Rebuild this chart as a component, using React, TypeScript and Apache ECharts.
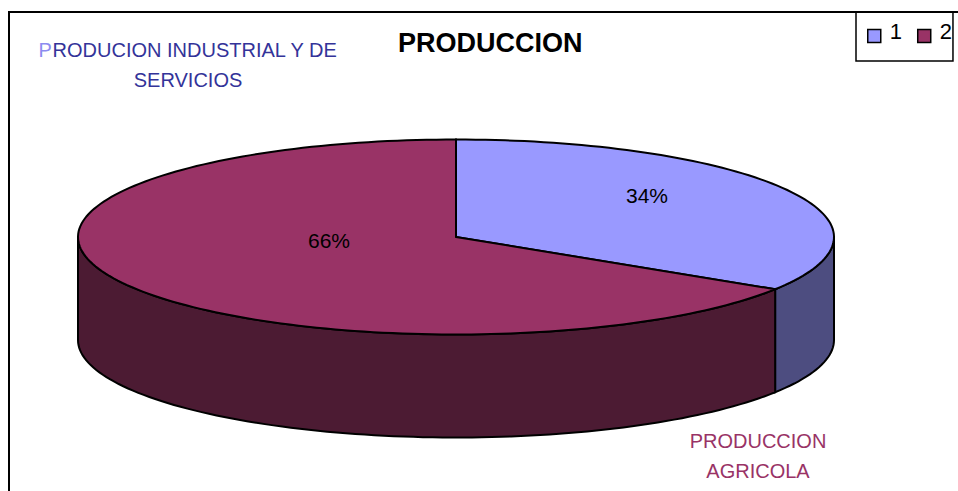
import React, { useEffect, useRef } from "react";
import * as echarts from "echarts";

// ---- data ----
const legendNames = ["1", "2"];
const values = [34, 66];
const topColors = ["#9999FF", "#993366"];
const sideColors = ["#4D4D80", "#4C1B33"];
const titleText = "PRODUCCION";
const industrialLabel = ["PRODUCION INDUSTRIAL Y DE", "SERVICIOS"];
const agricolaLabel = ["PRODUCCION", "AGRICOLA"];

// ---- layout ----
const CX = 456;
const CY = 237;
const RX = 378;
const RY = 97.5;
const DEPTH = 103;
const FONT = "'Liberation Sans', Arial, sans-serif";

function pt(deg: number, dy = 0): number[] {
  const r = (deg * Math.PI) / 180;
  return [CX + RX * Math.sin(r), CY - RY * Math.cos(r) + dy];
}

function arc(a0: number, a1: number, dy = 0): number[][] {
  const n = Math.max(2, Math.ceil(Math.abs(a1 - a0) / 1.5));
  const pts: number[][] = [];
  for (let i = 0; i <= n; i++) pts.push(pt(a0 + ((a1 - a0) * i) / n, dy));
  return pts;
}

export default function App() {
  const ref = useRef<HTMLDivElement>(null);
  useEffect(() => {
    if (!ref.current) return;
    const chart = echarts.init(ref.current, null, { renderer: "svg" });
    const total = values.reduce((a, b) => a + b, 0);
    const starts: number[] = [];
    const ends: number[] = [];
    let acc = 0;
    values.forEach((v) => {
      starts.push((acc / total) * 360);
      acc += v;
      ends.push((acc / total) * 360);
    });

    const series = values.map((v, i) => ({
      type: "custom",
      name: legendNames[i],
      coordinateSystem: "none",
      itemStyle: { color: topColors[i] },
      data: [[starts[i], ends[i], v]],
      renderItem: (params: any, api: any) => {
        const a0 = api.value(0);
        const a1 = api.value(1);
        const val = api.value(2);
        const children: any[] = [];
        // visible outer side (front half: 90..270 deg)
        const s = Math.max(a0, 90);
        const e = Math.min(a1, 270);
        if (e > s) {
          const topArc = arc(s, e, 0);
          const botArc = arc(e, s, DEPTH);
          children.push({
            type: "polygon",
            shape: { points: topArc.concat(botArc) },
            style: { fill: sideColors[i], stroke: "#000", lineWidth: 2 },
          });
        }
        // top face
        children.push({
          type: "polygon",
          shape: { points: [[CX, CY]].concat(arc(a0, a1, 0)) },
          style: { fill: topColors[i], stroke: "#000", lineWidth: 2 },
        });
        // percentage label
        const mid = (((a0 + a1) / 2) * Math.PI) / 180;
        const k = 0.48;
        children.push({
          type: "text",
          x: CX + 32 + k * RX * Math.sin(mid),
          y: CY - 19 - k * RY * Math.cos(mid),
          style: {
            text: Math.round((val / total) * 100) + "%",
            fontSize: 21,
            fontFamily: FONT,
            fill: "#000",
            align: "center",
            verticalAlign: "middle",
          },
        });
        return { type: "group", children };
      },
    }));

    chart.setOption({
      animation: false,
      backgroundColor: "#fff",
      title: {
        text: titleText,
        left: 398,
        top: 28,
        padding: 0,
        textStyle: {
          fontSize: 27,
          fontWeight: "bold",
          color: "#000",
          fontFamily: FONT,
          lineHeight: 30,
        },
      },
      legend: {
        data: legendNames,
        left: 856,
        top: 12,
        orient: "horizontal",
        icon: "rect",
        itemWidth: 13,
        itemHeight: 13,
        itemGap: 15,
        padding: [8, 1, 9, 11],
        borderColor: "#000",
        borderWidth: 1.5,
        selectedMode: false,
        itemStyle: { borderColor: "#000", borderWidth: 1.5 },
        formatter: "{t|{name}}",
        textStyle: {
          fontSize: 22,
          color: "#000",
          fontFamily: FONT,
          rich: {
            t: {
              fontSize: 22,
              lineHeight: 22,
              color: "#000",
              fontFamily: FONT,
              padding: [0, 0, 10, 4],
            },
          },
        },
      },
      graphic: [
        {
          type: "rect",
          shape: { x: 9, y: 12, width: 1200, height: 1200 },
          style: { fill: "none", stroke: "#000", lineWidth: 2 },
          silent: true,
          z: 10,
        },
        {
          type: "text",
          x: 188,
          y: 34.5,
          style: {
            text:
              "{p|" + industrialLabel[0].slice(0, 1) + "}{r|" + industrialLabel[0].slice(1) + "}\n{r|" + industrialLabel[1] + "}",
            align: "center",
            verticalAlign: "top",
            fontSize: 20,
            fontFamily: FONT,
            lineHeight: 30,
            rich: {
              p: { fill: "#8C8CF0", fontSize: 20, fontFamily: FONT, lineHeight: 30 },
              r: { fill: "#333399", fontSize: 20, fontFamily: FONT, lineHeight: 30 },
            },
          },
        },
        {
          type: "text",
          x: 758,
          y: 426,
          style: {
            text: agricolaLabel.join("\n"),
            align: "center",
            verticalAlign: "top",
            fontSize: 20,
            fontFamily: FONT,
            lineHeight: 30,
            fill: "#993366",
          },
        },
      ],
      series,
    });
    return () => chart.dispose();
  }, []);
  return (
    <div
      ref={ref}
      style={{ position: "fixed", left: 0, top: 0, width: 958, height: 491 }}
    />
  );
}
